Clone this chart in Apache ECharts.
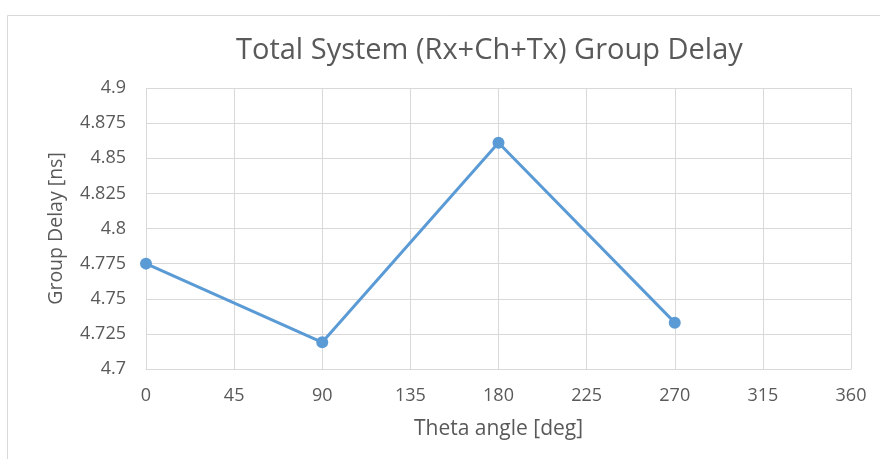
<!DOCTYPE html>
<html><head><meta charset="utf-8">
<script src="https://cdn.jsdelivr.net/npm/echarts@6/dist/echarts.min.js"></script>
<style>html,body{margin:0;padding:0;background:#fff;}#c{width:880px;height:459px;}</style>
</head><body><div id="c"></div>
<script>
const titleText = "Total System (Rx+Ch+Tx) Group Delay";
const xName = "Theta angle [deg]";
const yName = "Group Delay [ns]";
const thetaDeg = [0, 90, 180, 270];
const groupDelay = [4.775, 4.719, 4.861, 4.733];
const font = "'Open Sans', sans-serif";
const chart = echarts.init(document.getElementById('c'), null, {renderer: 'canvas'});
chart.setOption({
  animation: false,
  backgroundColor: '#fff',
  graphic: [{type: 'rect', shape: {x: 7.5, y: 15.5, width: 900, height: 500}, style: {fill: 'none', stroke: '#d9d9d9', lineWidth: 1}, silent: true}],
  title: {text: titleText, left: 236, top: 36, textStyle: {fontFamily: font, fontSize: 29, fontWeight: 'normal', color: '#595959'}, padding: 0},
  grid: {left: 146, right: 29, top: 88, bottom: 90},
  xAxis: {type: 'value', min: 0, max: 360, interval: 45,
    name: xName, nameLocation: 'middle', nameGap: 50,
    nameTextStyle: {fontFamily: font, fontSize: 21, color: '#595959'},
    axisLine: {show: true, lineStyle: {color: '#d9d9d9'}}, axisTick: {show: false},
    axisLabel: {fontFamily: font, fontSize: 18, color: '#595959', margin: 18},
    splitLine: {show: true, lineStyle: {color: '#d9d9d9', width: 1}}},
  yAxis: {type: 'value', min: 4.7, max: 4.9, interval: 0.025,
    name: yName, nameLocation: 'middle', nameGap: 80, nameRotate: 90,
    nameTextStyle: {fontFamily: font, fontSize: 19.5, color: '#595959'},
    axisLine: {show: false}, axisTick: {show: false},
    axisLabel: {fontFamily: font, fontSize: 18, color: '#595959', margin: 20, formatter: v => String(parseFloat(v.toFixed(3)))},
    splitLine: {show: true, lineStyle: {color: '#d9d9d9', width: 1}}},
  series: [{type: 'line', data: thetaDeg.map((t, i) => [t, groupDelay[i]]),
    lineStyle: {color: '#5b9bd5', width: 3}, itemStyle: {color: '#5b9bd5'},
    symbol: 'circle', symbolSize: 12}]
});
</script></body></html>
